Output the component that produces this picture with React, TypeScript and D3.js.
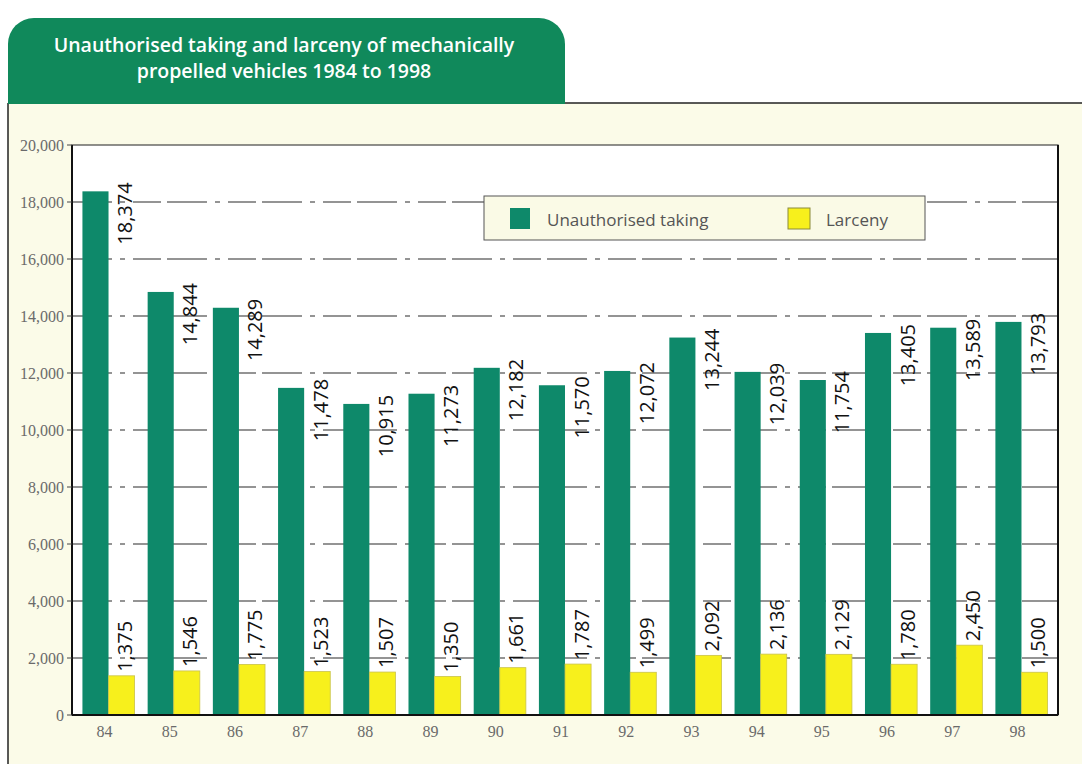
import React from "react";
import * as d3 from "d3";

const years = ["84", "85", "86", "87", "88", "89", "90", "91", "92", "93", "94", "95", "96", "97", "98"];
const unauthorisedTaking = [18374, 14844, 14289, 11478, 10915, 11273, 12182, 11570, 12072, 13244, 12039, 11754, 13405, 13589, 13793];
const larceny = [1375, 1546, 1775, 1523, 1507, 1350, 1661, 1787, 1499, 2092, 2136, 2129, 1780, 2450, 1500];
const yTicks = [0, 2000, 4000, 6000, 8000, 10000, 12000, 14000, 16000, 18000, 20000];
const seriesNames = ["Unauthorised taking", "Larceny"];
const titleLines = ["Unauthorised taking and larceny of mechanically", "propelled vehicles 1984 to 1998"];

const W = 1082;
const H = 764;
const plot = { left: 72, right: 1058, top: 145, bottom: 715 };
const GREEN = "#0e896a";
const HEADER = "#10895b";
const YELLOW = "#f7f01c";
const CREAM = "#fbfbe8";
const fmt = d3.format(",");

export default function App() {
  const x = d3.scaleBand<string>().domain(years).range([plot.left, plot.right]).paddingInner(0.2).paddingOuter(0.16);
  const xs = d3.scaleBand<string>().domain(["u", "l"]).range([0, x.bandwidth()]);
  const y = d3.scaleLinear().domain([0, 20000]).range([plot.bottom, plot.top]);

  const headerPath = (() => {
    const x0 = 8, x1 = 565, y0 = 18, y1 = 104, r = 26;
    const p = d3.path();
    p.moveTo(x0, y1);
    p.lineTo(x0, y0 + r);
    p.arcTo(x0, y0, x0 + r, y0, r);
    p.lineTo(x1 - r, y0);
    p.arcTo(x1, y0, x1, y0 + r, r);
    p.lineTo(x1, y1);
    p.closePath();
    return p.toString();
  })();

  return (
    <div style={{ position: "fixed", left: 0, top: 0, width: W, height: H, background: "#ffffff" }}>
      <svg width={W} height={H} style={{ display: "block" }}>
        <rect x={0} y={0} width={W} height={H} fill="#ffffff" />
        {/* cream panel */}
        <rect x={8} y={103} width={W - 8} height={H - 103} fill={CREAM} />
        <line x1={8} x2={W} y1={103} y2={103} stroke="#222" strokeWidth={1.3} />
        <line x1={8} x2={8} y1={103} y2={H} stroke="#222" strokeWidth={1.5} />
        {/* header tab */}
        <path d={headerPath} fill={HEADER} />
        {titleLines.map((t, i) => (
          <text
            key={t}
            x={284}
            y={52 + i * 26}
            textAnchor="middle"
            fill="#ffffff"
            fontFamily="'Open Sans', sans-serif"
            fontWeight={600}
            fontSize={19.5}
          >
            {t}
          </text>
        ))}
        {/* plot area */}
        <rect x={plot.left} y={plot.top} width={plot.right - plot.left} height={plot.bottom - plot.top} fill="#ffffff" />
        {yTicks.filter((t) => t > 0 && t < 20000).map((t) => (
          <line
            key={"g" + t}
            x1={plot.left}
            x2={plot.right}
            y1={y(t)}
            y2={y(t)}
            stroke="#2a2a2a"
            strokeWidth={1.2}
            strokeDasharray="40,8,5,8,28,6"
          />
        ))}
        {/* bars */}
        {years.map((yr, i) => {
          const gx = x(yr)!;
          return (
            <g key={yr}>
              <rect x={gx + xs("u")!} y={y(unauthorisedTaking[i])} width={xs.bandwidth()} height={y(0) - y(unauthorisedTaking[i])} fill={GREEN} />
              <rect
                x={gx + xs("l")!}
                y={y(larceny[i])}
                width={xs.bandwidth()}
                height={y(0) - y(larceny[i])}
                fill={YELLOW}
                stroke="#c9c24a"
                strokeWidth={0.8}
              />
            </g>
          );
        })}
        {/* value labels */}
        {years.map((yr, i) => {
          const cx = x(yr)! + xs("l")! + xs.bandwidth() / 2 + 3;
          const yu = y(unauthorisedTaking[i]) - 9;
          const yl = y(larceny[i]) - 4;
          return (
            <g key={"l" + yr} fontFamily="'Open Sans', sans-serif" fontSize={20} fill="#111">
              <text transform={`translate(${cx},${yu}) rotate(-90)`} textAnchor="end" dominantBaseline="central">
                {fmt(unauthorisedTaking[i])}
              </text>
              <text transform={`translate(${cx},${yl}) rotate(-90)`} textAnchor="start" dominantBaseline="central">
                {fmt(larceny[i])}
              </text>
            </g>
          );
        })}
        {/* plot frame */}
        <rect x={plot.left} y={plot.top} width={plot.right - plot.left} height={plot.bottom - plot.top} fill="none" stroke="#444" strokeWidth={1.2} />
        <line x1={plot.left} x2={plot.left} y1={plot.top} y2={plot.bottom} stroke="#111" strokeWidth={2} />
        <line x1={plot.left} x2={plot.right} y1={plot.bottom} y2={plot.bottom} stroke="#111" strokeWidth={2} />
        <line x1={plot.right} x2={plot.right} y1={plot.top} y2={plot.bottom} stroke="#111" strokeWidth={2} />
        {/* y axis */}
        {yTicks.map((t) => (
          <g key={"y" + t}>
            <line x1={plot.left - 5} x2={plot.left} y1={y(t)} y2={y(t)} stroke="#444" strokeWidth={1} />
            <text
              x={64}
              y={y(t)}
              textAnchor="end"
              dominantBaseline="central"
              fontFamily="'Liberation Serif', serif"
              fontSize={16}
              fill="#6a6a6a"
            >
              {fmt(t)}
            </text>
          </g>
        ))}
        {/* x axis labels */}
        {years.map((yr) => (
          <text
            key={"x" + yr}
            x={x(yr)! + x.bandwidth() / 2 - 4}
            y={737}
            textAnchor="middle"
            fontFamily="'Liberation Serif', serif"
            fontSize={16}
            fill="#6a6a6a"
          >
            {yr}
          </text>
        ))}
        {/* legend */}
        <g>
          <rect x={484} y={196} width={441} height={44} fill="#fafae6" stroke="#555" strokeWidth={1} />
          <rect x={510} y={208} width={20} height={21} fill={GREEN} />
          <text x={547} y={219} dominantBaseline="central" fontFamily="'Open Sans', sans-serif" fontSize={17} fill="#555">
            {seriesNames[0]}
          </text>
          <rect x={788} y={208} width={22} height={21} fill={YELLOW} stroke="#8a8a3a" strokeWidth={1} />
          <text x={826} y={219} dominantBaseline="central" fontFamily="'Open Sans', sans-serif" fontSize={17} fill="#555">
            {seriesNames[1]}
          </text>
        </g>
      </svg>
    </div>
  );
}
